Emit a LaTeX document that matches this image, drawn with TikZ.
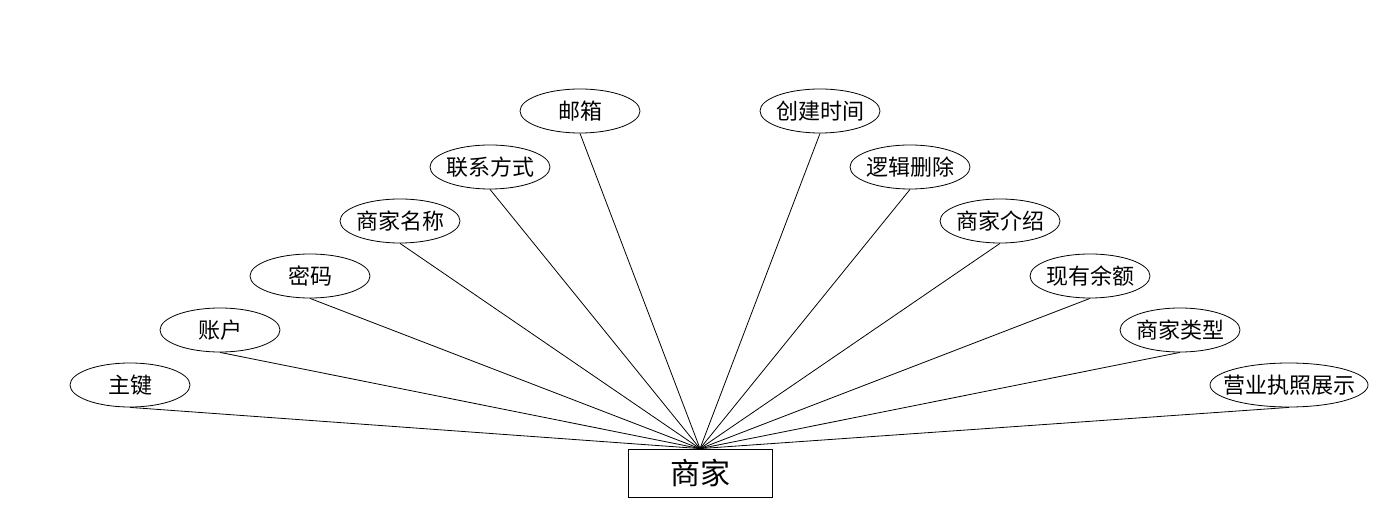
\documentclass[tikz,border=0pt]{standalone}
\usepackage{fontspec}
\setmainfont{Noto Sans CJK SC}
\usetikzlibrary{shapes.geometric}
\newcommand{\zt}[1]{\makebox[0pt]{#1}}
\begin{document}
\begin{tikzpicture}[x=0.5pt,y=-0.5pt,
  attr/.style={draw,ellipse,minimum width=60pt,minimum height=22pt,inner sep=0pt,font=\fontsize{11}{13}\selectfont},
  ent/.style={draw,rectangle,minimum width=72pt,minimum height=24pt,inner sep=0pt,font=\fontsize{15}{18}\selectfont}]
\useasboundingbox (0,0) rectangle (1400,528);
\node[ent] (e) at (700,473) {商家};
\node[attr] (a1) at (130,385) {\zt{主键}};
\node[attr] (a2) at (220,330) {\zt{账户}};
\node[attr] (a3) at (310,276) {\zt{密码}};
\node[attr] (a4) at (400,221) {\zt{商家名称}};
\node[attr] (a5) at (490,167) {\zt{联系方式}};
\node[attr] (a6) at (580,111) {\zt{邮箱}};
\node[attr] (a7) at (820,111) {\zt{创建时间}};
\node[attr] (a8) at (910,167) {\zt{逻辑删除}};
\node[attr] (a9) at (1000,221) {\zt{商家介绍}};
\node[attr] (a10) at (1090,276) {\zt{现有余额}};
\node[attr] (a11) at (1180,330) {\zt{商家类型}};
\node[attr,minimum width=79pt] (a12) at (1289,385) {\zt{营业执照展示}};
\foreach \i in {1,...,12} \draw[line width=0.4pt] (a\i.south) -- (e.north);
\end{tikzpicture}
\end{document}
